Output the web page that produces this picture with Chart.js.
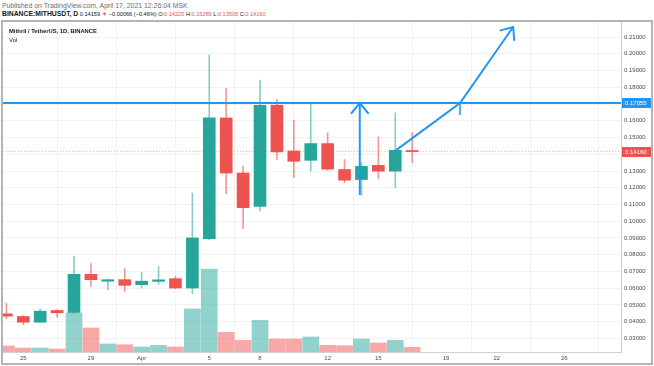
<!DOCTYPE html>
<html>
<head>
<meta charset="utf-8">
<script src="https://cdn.jsdelivr.net/npm/chart.js@4.4.1/dist/chart.umd.min.js"></script>
<style>
  html, body { margin:0; padding:0; background:#fff; width:654px; height:366px; overflow:hidden; }
  body { font-family: "Liberation Sans", Arial, sans-serif; position:relative; }
  #h1 { position:absolute; left:2px; top:2px; font-size:6.9px; color:#6a6d78; white-space:nowrap; }
  #h2 { position:absolute; left:2px; top:10px; font-size:5.6px; color:#131722; white-space:nowrap; }
  #h2 b { font-weight:bold; font-size:6.8px; }
  .r { color:#ef5350; }
  #frame { position:absolute; left:1px; top:20px; width:648px; height:341px; border:2px solid #b4b4b4; }
  #c { position:absolute; left:0; top:0; }
  #t1 { position:absolute; left:6px; top:6px; font-size:5.8px; font-weight:bold; color:#131722; white-space:nowrap; }
  #t2 { position:absolute; left:6px; top:15px; font-size:6px; color:#131722; }
</style>
</head>
<body>
<div id="h1">Published on TradingView.com, April 17, 2021 12:26:04 MSK</div>
<div id="h2"><b>BINANCE:MITHUSDT, D</b> 0.14159 <span class="r">▼</span> −0.00066 (−0.46%) O:<span class="r">0.14225</span> H:<span class="r">0.15289</span> L:<span class="r">0.13505</span> C:<span class="r">0.14160</span></div>
<div id="frame">
  <canvas id="c" width="648" height="341"></canvas>
  <div id="t1">Mithril / TetherUS, 1D, BINANCE</div>
  <div id="t2">Vol</div>
</div>
<script>
// ---- data (daily candles, day index 0 = 2021-03-24) ----
const dates = ['03-24','03-25','03-26','03-27','03-28','03-29','03-30','03-31','04-01','04-02','04-03','04-04','04-05',
               '04-06','04-07','04-08','04-09','04-10','04-11','04-12','04-13','04-14','04-15','04-16','04-17'];
const dayIndex = dates.map((d, i) => i);
const open  = [0.0447,0.0431,0.0397,0.0467,0.0455,0.0683,0.0642,0.0651,0.0621,0.0641,0.0657,0.0601,0.0896,
               0.1617,0.1288,0.1089,0.1693,0.1420,0.1364,0.1464,0.1309,0.1249,0.1334,0.1299,0.14225];
const high  = [0.0511,0.0437,0.0477,0.0473,0.0790,0.0747,0.0655,0.0717,0.0695,0.0730,0.0671,0.1169,0.1992,
               0.1793,0.1329,0.1843,0.1727,0.1604,0.1699,0.1528,0.1369,0.1350,0.1504,0.1647,0.15289];
const low   = [0.0418,0.0382,0.0395,0.0427,0.0449,0.0611,0.0591,0.0581,0.0601,0.0623,0.0597,0.0567,0.0890,
               0.1165,0.0956,0.1061,0.1369,0.1261,0.1300,0.1305,0.1229,0.1155,0.1255,0.1201,0.13505];
const close = [0.0433,0.0397,0.0463,0.0453,0.0683,0.0651,0.0651,0.0617,0.0642,0.0650,0.0601,0.0900,0.1617,
               0.1288,0.1081,0.1693,0.1414,0.1358,0.1464,0.1311,0.1245,0.1328,0.1299,0.1424,0.14160];
const volume = [6.0,4.0,4.0,3.0,39.0,24.0,8.0,7.3,5.0,6.6,5.0,43.0,83.0,
                19.6,11.6,31.6,13.0,13.0,15.0,6.6,6.3,13.0,9.0,11.6,4.6];   // millions (approx.)

const yTickValues = [0.03,0.04,0.05,0.06,0.07,0.08,0.09,0.10,0.11,0.12,0.13,0.14,0.15,0.16,0.17,0.18,0.19,0.20,0.21];
const xTickDays   = [1, 5, 8, 12, 15, 19, 22, 26, 29, 33];
const xTickLabels = ['25','29','Apr','5','8','12','15','19','22','26'];

// drawings
const levelPrice = 0.17055;
const lastPrice  = 0.14160;
const arrowUpX   = [20.9, 20.9];
const arrowUpY   = [0.1157, 0.17055];
const pathX      = [23.05, 26.83, 29.97];
const pathY      = [0.1425, 0.17055, 0.2160];
const markX      = [26.83, 26.83];
const markY      = [0.17055, 0.1634];

const X_MIN = -0.2, X_MAX = 36.35, Y_MIN = 0.0219, Y_MAX = 0.219, V_MAX = 330;

const GREEN = '#26a69a', RED = '#ef5350', BLUE = '#2196f3';
const up = dayIndex.map(i => close[i] >= open[i]);
const pts = (xs, ys) => xs.map((x, i) => ({x, y: ys[i]}));
const noPad = s => { s.paddingTop = 0; s.paddingBottom = 0; s.paddingLeft = 0; s.paddingRight = 0; };

const arrowPlugin = {
  id: 'arrows',
  afterDatasetsDraw(chart) {
    const ctx = chart.ctx;
    chart.data.datasets.forEach((ds, di) => {
      if (!ds.arrowHead) return;
      const pts = chart.getDatasetMeta(di).data;
      const a = pts[pts.length - 2], b = pts[pts.length - 1];
      const ang = Math.atan2(a.y - b.y, a.x - b.x);
      const L = 13, spread = 40 * Math.PI / 180;
      ctx.save();
      ctx.strokeStyle = ds.borderColor; ctx.lineWidth = ds.borderWidth; ctx.lineCap = 'round';
      ctx.beginPath();
      ctx.moveTo(b.x + L * Math.cos(ang + spread), b.y + L * Math.sin(ang + spread));
      ctx.lineTo(b.x, b.y);
      ctx.lineTo(b.x + L * Math.cos(ang - spread), b.y + L * Math.sin(ang - spread));
      ctx.stroke();
      ctx.restore();
    });
  },
  afterDraw(chart) {
    const ctx = chart.ctx, ys = chart.scales.y, area = chart.chartArea;
    [[levelPrice, BLUE], [lastPrice, RED]].forEach(([v, col]) => {
      const y = Math.round(ys.getPixelForValue(v));
      ctx.save();
      ctx.fillStyle = col;
      ctx.fillRect(area.right + 1, y - 5, chart.width - area.right - 1, 10);
      ctx.fillStyle = '#fff';
      ctx.font = '6px "Liberation Sans", Arial, sans-serif';
      ctx.textBaseline = 'middle';
      ctx.fillText(v.toFixed(5), area.right + 4, y + 0.5);
      ctx.restore();
    });
  }
};

new Chart(document.getElementById('c'), {
  type: 'bar',
  data: {
    datasets: [
      { type: 'line', label: 'level', data: pts([X_MIN, X_MAX], [levelPrice, levelPrice]),
        borderColor: BLUE, borderWidth: 2, pointRadius: 0, yAxisID: 'y', order: 0 },
      { type: 'line', label: 'arrowUp', data: pts(arrowUpX, arrowUpY), arrowHead: true,
        borderColor: BLUE, borderWidth: 2, pointRadius: 0, yAxisID: 'y', order: 0 },
      { type: 'line', label: 'path', data: pts(pathX, pathY), arrowHead: true,
        borderColor: BLUE, borderWidth: 2, pointRadius: 0, yAxisID: 'y', order: 0 },
      { type: 'line', label: 'mark', data: pts(markX, markY),
        borderColor: BLUE, borderWidth: 1.5, pointRadius: 0, yAxisID: 'y', order: 0 },
      { type: 'line', label: 'last', data: pts([X_MIN, X_MAX], [lastPrice, lastPrice]),
        borderColor: 'rgba(239,83,80,0.45)', borderWidth: 1, borderDash: [1, 2], pointRadius: 0, yAxisID: 'y', order: 4 },
      { label: 'body', data: dayIndex.map(i => ({x: i, y: [open[i], close[i]]})),
        backgroundColor: up.map(u => u ? GREEN : RED), barThickness: 12, minBarLength: 1,
        grouped: false, yAxisID: 'y', order: 1 },
      { label: 'wick', data: dayIndex.map(i => ({x: i, y: [low[i], high[i]]})),
        backgroundColor: up.map(u => u ? 'rgba(38,166,154,0.55)' : 'rgba(239,83,80,0.6)'), barThickness: 1,
        grouped: false, yAxisID: 'y', order: 2 },
      { label: 'volume', data: dayIndex.map(i => ({x: i, y: volume[i]})),
        backgroundColor: up.map(u => u ? 'rgba(38,166,154,0.5)' : 'rgba(239,83,80,0.5)'), barThickness: 16,
        grouped: false, yAxisID: 'yv', order: 3 }
    ]
  },
  options: {
    responsive: false, animation: false, devicePixelRatio: 1,
    layout: { padding: 0 },
    plugins: { legend: { display: false }, tooltip: { enabled: false } },
    scales: {
      x: {
        type: 'linear', min: X_MIN, max: X_MAX, offset: false,
        afterBuildTicks: s => { s.ticks = xTickDays.map(v => ({value: v})); },
        afterFit: s => { s.height = 11; noPad(s); },
        grid: { color: 'rgba(42,46,57,0.06)', drawTicks: false },
        border: { display: true, color: '#d0d0d0' },
        ticks: { padding: 3, maxRotation: 0, autoSkip: false, color: '#4a4a4a',
                 font: { size: 6, family: '"Liberation Sans", Arial, sans-serif' },
                 callback: v => { const k = xTickDays.indexOf(v); return k >= 0 ? xTickLabels[k] : ''; } }
      },
      y: {
        type: 'linear', position: 'right', min: Y_MIN, max: Y_MAX,
        afterBuildTicks: s => { s.ticks = yTickValues.map(v => ({value: v})); },
        afterFit: s => { s.width = 30; noPad(s); },
        grid: { color: 'rgba(42,46,57,0.06)', drawTicks: false },
        border: { display: true, color: '#d0d0d0' },
        ticks: { padding: 3, crossAlign: 'near', color: '#4a4a4a',
                 font: { size: 6, family: '"Liberation Sans", Arial, sans-serif' },
                 callback: v => (Math.abs(v - 0.14) < 1e-6 || Math.abs(v - 0.17) < 1e-6) ? '' : v.toFixed(5) }
      },
      yv: { type: 'linear', display: false, min: 0, max: V_MAX }
    }
  },
  plugins: [arrowPlugin]
});
</script>
</body>
</html>
